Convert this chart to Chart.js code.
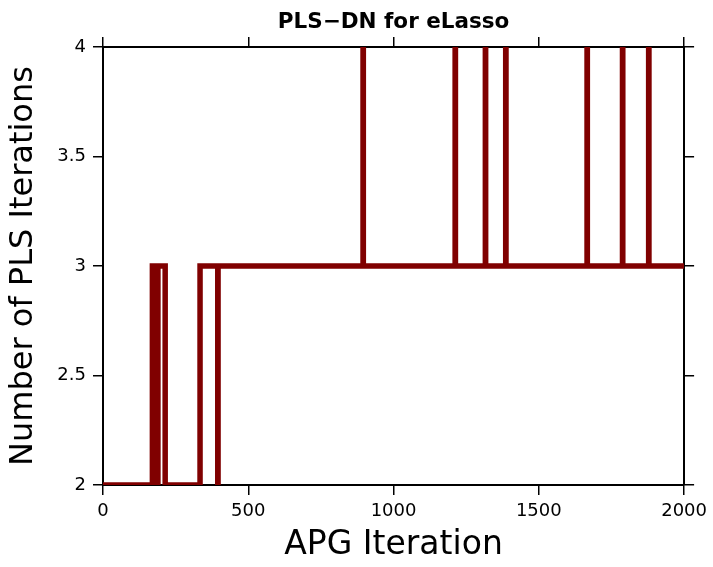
<!DOCTYPE html>
<html>
<head>
<meta charset="utf-8">
<script src="https://cdn.jsdelivr.net/npm/chart.js@4"></script>
<style>
	body { margin: 0; background: #fff; }
	#wrap { width: 713px; height: 567px; }
</style>
</head>
<body>
<div id="wrap"><canvas id="pls" width="713" height="567"></canvas></div>
<script>
// Data (APG iteration where the PLS count changes)
const apgIter = [0, 170, 188, 189, 214, 334, 395, 396, 895, 896, 1212, 1213, 1316, 1317, 1386, 1387, 1666, 1667, 1788, 1789, 1878, 1879, 2000];
const plsIters = [2, 3, 2, 3, 2, 3, 2, 3, 4, 3, 4, 3, 4, 3, 4, 3, 4, 3, 4, 3, 4, 3, 3];
const xTicks = [0, 500, 1000, 1500, 2000];
const yTicks = [2, 2.5, 3, 3.5, 4];

Chart.defaults.font.family = 'DejaVu Sans';
Chart.defaults.color = '#000';

// fixed box sizes so the plot area sits where it does in the original
function fixWidth(w) {
	return (scale) => { scale.width = w; };
}
function fixHeight(h) {
	return (scale) => { scale.height = h; };
}
function setTicks(vals) {
	return (scale) => { scale.ticks = vals.map((v) => ({ value: v })); };
}

const axisGrid = {
	drawOnChartArea: false,
	drawTicks: true,
	tickLength: 10,
	color: '#000',
	lineWidth: 1.5,
};
const axisBorder = { display: true, color: '#000', width: 2 };
const plainLabel = (v) => String(v);

let ctx = document.getElementById('pls').getContext('2d');
let plsChart = new Chart(ctx, {
	type: 'line',
	data: {
		datasets: [
			{
				data: apgIter.map((x, i) => ({ x: x, y: plsIters[i] })),
				borderColor: '#800000',
				borderWidth: 5.5,
				// hold the value until the next change point
				stepped: 'before',
				pointRadius: 0,
				fill: false,
				clip: 0,
				borderJoinStyle: 'miter',
			},
		],
	},
	options: {
		responsive: false,
		animation: false,
		devicePixelRatio: 1,
		layout: { padding: 0 },
		plugins: {
			legend: { display: false },
			title: { display: false },
			tooltip: { enabled: false },
		},
		scales: {
			x: {
				type: 'linear',
				position: 'bottom',
				min: 0,
				max: 2000,
				afterBuildTicks: setTicks(xTicks),
				afterFit: fixHeight(82),
				grid: axisGrid,
				border: axisBorder,
				ticks: { font: { size: 18 }, padding: 6, maxRotation: 0, callback: plainLabel },
				title: {
					display: true,
					text: 'APG Iteration',
					font: { size: 33 },
					padding: { top: 0, bottom: 2 },
				},
			},
			xTop: {
				type: 'linear',
				position: 'top',
				min: 0,
				max: 2000,
				afterBuildTicks: setTicks(xTicks),
				afterFit: fixHeight(47),
				grid: axisGrid,
				border: axisBorder,
				ticks: { display: false },
				title: {
					display: true,
					text: 'PLS\u2212DN for eLasso',
					font: { size: 21.5, weight: 'bold' },
					padding: { top: 10, bottom: 0 },
				},
			},
			y: {
				type: 'linear',
				position: 'left',
				min: 2,
				max: 4,
				afterBuildTicks: setTicks(yTicks),
				afterFit: fixWidth(103),
				grid: axisGrid,
				border: axisBorder,
				ticks: { font: { size: 18 }, padding: 7, callback: plainLabel },
				title: {
					display: true,
					text: 'Number of PLS Iterations',
					font: { size: 32 },
					padding: { top: 4, bottom: 0 },
				},
			},
			yRight: {
				type: 'linear',
				position: 'right',
				min: 2,
				max: 4,
				afterBuildTicks: setTicks(yTicks),
				afterFit: fixWidth(27),
				grid: axisGrid,
				border: axisBorder,
				ticks: { display: false },
			},
		},
	},
});
</script>
</body>
</html>
